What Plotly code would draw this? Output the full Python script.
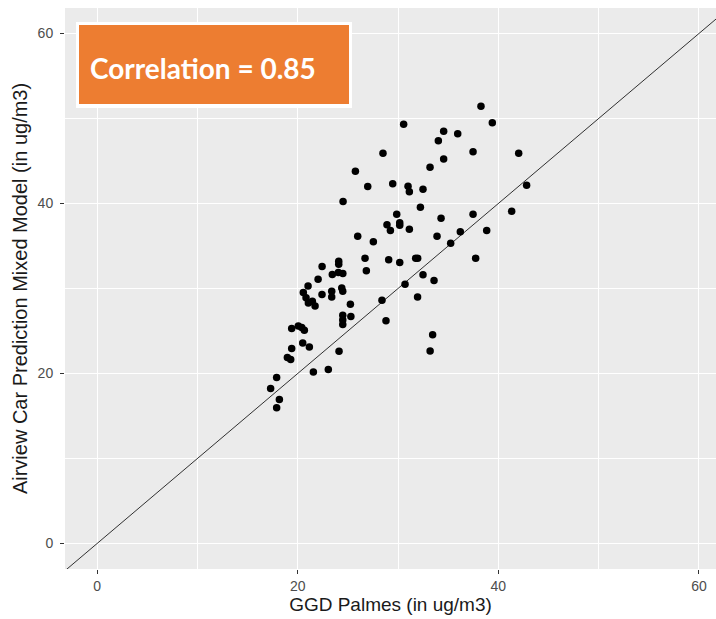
import plotly.graph_objects as go

# Data
ggd_palmes = [
    38.27, 30.56, 39.40, 34.55, 35.95, 34.02, 28.50, 37.48, 42.03, 34.55,
    33.19, 25.75, 26.98, 29.47, 31.00, 31.13, 32.49, 42.82, 24.52, 32.23,
    29.87, 34.29, 37.48, 41.33, 28.90, 29.24, 30.17, 30.17, 31.13, 38.84,
    25.98, 27.54, 33.89, 36.21, 35.25, 26.71, 29.07, 30.17, 31.76, 31.96,
    37.74, 26.84, 22.43, 24.09, 24.09, 22.03, 23.45, 24.05, 24.50, 21.03,
    32.49, 33.59, 30.70, 23.39, 23.39, 24.39, 24.49, 22.42, 20.56, 20.83,
    21.06, 21.46, 21.73, 25.25, 24.49, 24.49, 24.49, 25.30, 28.40, 31.95,
    28.80, 19.40, 20.06, 20.40, 20.66, 20.50, 21.16, 19.40, 18.97, 19.30,
    24.12, 33.45, 33.20, 23.05, 21.56, 17.90, 17.30, 18.17, 17.90,
]
airview_pred = [
    51.45, 49.33, 49.49, 48.51, 48.20, 47.37, 45.92, 46.08, 45.92, 45.25,
    44.27, 43.80, 42.00, 42.31, 42.04, 41.37, 41.69, 42.16, 40.24, 39.57,
    38.75, 38.27, 38.75, 39.10, 37.49, 36.82, 37.73, 37.45, 36.98, 36.82,
    36.16, 35.49, 36.16, 36.67, 35.33, 33.57, 33.37, 33.06, 33.57, 33.57,
    33.57, 32.08, 32.59, 33.22, 32.85, 31.10, 31.65, 31.88, 31.76, 30.30,
    31.61, 30.94, 30.51, 29.68, 29.01, 30.07, 29.68, 29.29, 29.52, 28.90,
    28.30, 28.50, 27.95, 28.15, 26.86, 26.30, 25.76, 26.70, 28.62, 29.00,
    26.22, 25.29, 25.60, 25.40, 25.10, 23.60, 23.13, 22.94, 21.88, 21.64,
    22.62, 24.57, 22.64, 20.47, 20.19, 19.53, 18.24, 16.94, 15.96,
]
identity_line = [-10, 70]
tick_values = [0, 20, 40, 60]
x_title = "GGD Palmes (in ug/m3)"
y_title = "Airview Car Prediction Mixed Model (in ug/m3)"
badge_text = "Correlation = 0.85"

W, H = 716, 619
ML, MR, MT, MB = 65, 0, 8, 50
PW, PH = W - ML - MR, H - MT - MB


def px(x):
    return (x - ML) / PW


def py(y):
    return (H - MB - y) / PH


fig = go.Figure()
fig.add_trace(go.Scatter(
    x=identity_line, y=identity_line, mode="lines",
    line=dict(color="black", width=0.8), hoverinfo="skip", showlegend=False,
))
fig.add_trace(go.Scatter(
    x=ggd_palmes, y=airview_pred, mode="markers",
    marker=dict(color="black", size=7.5), showlegend=False,
))

axis_common = dict(
    showgrid=True, gridcolor="white", gridwidth=1.3,
    minor=dict(dtick=10, showgrid=True, gridcolor="white", gridwidth=0.6),
    tickvals=tick_values, ticks="outside", ticklen=4, tickwidth=1,
    tickcolor="#333333", showline=False, zeroline=False,
    tickfont=dict(family="Liberation Sans", size=14, color="#4D4D4D"),
)

fig.update_layout(
    width=W, height=H,
    margin=dict(l=ML, r=MR, t=MT, b=MB, pad=0),
    paper_bgcolor="white", plot_bgcolor="#EBEBEB",
    xaxis=dict(range=[-3.2, 61.7], **axis_common,
               title=dict(text=x_title, standoff=2,
                          font=dict(family="Liberation Sans", size=19, color="#1a1a1a"))),
    yaxis=dict(range=[-3, 63], **axis_common, ticklabelstandoff=4,
               title=dict(text=y_title, standoff=4,
                          font=dict(family="Liberation Sans", size=20, color="#1a1a1a"))),
    shapes=[
        dict(type="rect", xref="paper", yref="paper",
             x0=px(76), x1=px(352), y0=py(108), y1=py(22),
             fillcolor="white", line=dict(width=0)),
        dict(type="rect", xref="paper", yref="paper",
             x0=px(79), x1=px(349), y0=py(104), y1=py(25),
             fillcolor="#ED7D31", line=dict(width=0)),
    ],
    annotations=[
        dict(text=f"<b>{badge_text}</b>", xref="paper", yref="paper",
             x=px(88), y=py(68), xanchor="left", yanchor="middle",
             showarrow=False,
             font=dict(family="Lato", size=28, color="white")),
    ],
)

fig.write_html("out.html")
